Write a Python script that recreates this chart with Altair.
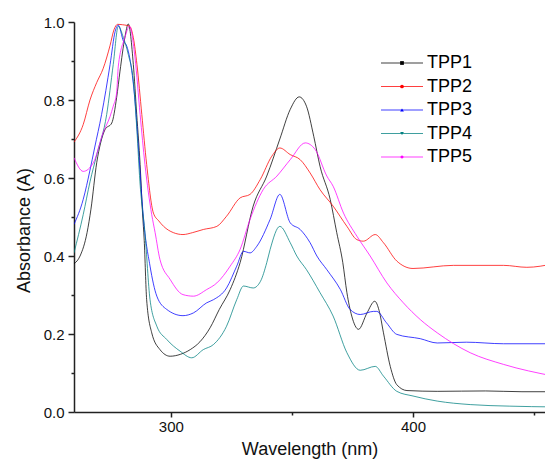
import altair as alt
import pandas as pd

series_names = ["TPP1", "TPP2", "TPP3", "TPP4", "TPP5"]
series_colors = ["#000000", "#ff0000", "#0000ff", "#008080", "#ff00ff"]
series_shapes = ["square", "circle", "triangle-up", "triangle-down", "diamond"]

tpp1_x = [260, 262.5, 265.4, 267, 269.4, 271, 272.8, 275.6, 277.6, 279, 281, 282.4, 284.5, 285.9, 287.3, 288.3,
          289, 290, 292.1, 295.5, 299.7, 304, 308, 312, 316.2, 320, 324.5, 328.6, 334, 339.6, 345, 349.3, 353,
          356, 359, 361.6, 365.8, 368.5, 371, 372.7, 374.7, 377.5, 381, 384.2, 386, 387.8, 390.6, 393.3, 397.5,
          410, 430, 445, 458]
tpp1_y = [0.38, 0.40, 0.46, 0.52, 0.64, 0.69, 0.724, 0.741, 0.806, 0.874, 0.96, 0.995, 0.891, 0.763, 0.635, 0.51,
          0.44, 0.288, 0.203, 0.16, 0.143, 0.148, 0.16, 0.18, 0.216, 0.263, 0.314, 0.383, 0.528, 0.605, 0.70, 0.776,
          0.808, 0.784, 0.707, 0.63, 0.545, 0.46, 0.383, 0.306, 0.246, 0.212, 0.254, 0.284, 0.26, 0.203, 0.117,
          0.07, 0.055, 0.053, 0.054, 0.052, 0.052]

tpp2_x = [260, 263.8, 266.6, 269.4, 272, 274.9, 276.5, 278, 280, 283, 284.5, 286, 288, 290, 292.8, 295, 297, 301,
          305, 309, 313.4, 319, 323, 328.6, 332.7, 336.9, 341.7, 345, 349.3, 353.4, 357.5, 361.6, 367, 372.7, 376.8,
          379.5, 384.4, 387.8, 393.3, 400, 416.7, 437.4, 447, 458]
tpp2_y = [0.692, 0.737, 0.80, 0.845, 0.88, 0.94, 0.98, 0.994, 0.993, 0.989, 0.96, 0.891, 0.763, 0.635, 0.51, 0.49,
          0.476, 0.46, 0.455, 0.46, 0.468, 0.476, 0.502, 0.549, 0.558, 0.596, 0.656, 0.677, 0.66, 0.647, 0.613, 0.57,
          0.528, 0.476, 0.442, 0.438, 0.455, 0.434, 0.387, 0.368, 0.376, 0.376, 0.371, 0.38]

tpp3_x = [260, 263.8, 266.6, 268.5, 271.4, 274.9, 277, 278.3, 280.4, 281.8, 283, 285.2, 286.6, 288, 288.6, 291.4,
          294.2, 298.3, 305, 309.3, 314.8, 317.6, 323, 327.2, 330, 332.7, 335.5, 341, 345, 349.3, 353.4, 357.5,
          360.3, 364.4, 370, 374, 378.2, 383.7, 385, 389, 393.3, 403, 410, 422, 437.4, 458]
tpp3_y = [0.481, 0.545, 0.62, 0.677, 0.763, 0.891, 0.976, 0.992, 0.951, 0.938, 0.908, 0.797, 0.677, 0.55, 0.502,
          0.374, 0.297, 0.263, 0.247, 0.254, 0.28, 0.288, 0.318, 0.374, 0.412, 0.408, 0.425, 0.494, 0.558, 0.485,
          0.468, 0.434, 0.40, 0.365, 0.314, 0.263, 0.25, 0.258, 0.258, 0.229, 0.199, 0.188, 0.177, 0.179, 0.175,
          0.175]

tpp4_x = [260, 263.8, 266.6, 269.4, 273.5, 276.2, 278.3, 280.4, 282.4, 284.5, 286, 287.2, 289.3, 291.4, 294.2,
          298.3, 303.8, 308.6, 313.4, 317.6, 323, 327.2, 330, 334, 337, 339.6, 341, 345, 349.3, 352, 356, 361.6,
          367, 372.7, 378.2, 384.4, 387.8, 393.3, 400, 410, 423.6, 440, 458]
tpp4_y = [0.408, 0.506, 0.59, 0.66, 0.763, 0.891, 0.989, 0.96, 0.917, 0.848, 0.72, 0.592, 0.46, 0.288, 0.22,
          0.186, 0.156, 0.139, 0.16, 0.173, 0.22, 0.288, 0.323, 0.318, 0.335, 0.383, 0.417, 0.476, 0.434, 0.40,
          0.365, 0.306, 0.246, 0.152, 0.107, 0.117, 0.092, 0.053, 0.041, 0.028, 0.019, 0.015, 0.013]

tpp5_x = [260, 263.8, 268, 272, 274.9, 276.2, 277.6, 278.3, 281, 282.9, 285.2, 287.3, 289.3, 292.1, 293.5, 295.5,
          299.7, 305, 309.3, 314.8, 319, 324.5, 328.6, 332.7, 338.2, 343.8, 349.3, 355.5, 359.6, 364.4, 367, 371.3,
          376.8, 382.3, 389.2, 396, 403, 410, 423.6, 437.4, 458]
tpp5_y = [0.652, 0.617, 0.639, 0.716, 0.758, 0.784, 0.818, 0.887, 0.96, 0.989, 0.908, 0.763, 0.635, 0.506, 0.46,
          0.391, 0.34, 0.301, 0.297, 0.314, 0.331, 0.374, 0.417, 0.494, 0.571, 0.605, 0.647, 0.69, 0.673, 0.605,
          0.579, 0.51, 0.451, 0.40, 0.331, 0.28, 0.237, 0.203, 0.152, 0.122, 0.092]

all_x = [tpp1_x, tpp2_x, tpp3_x, tpp4_x, tpp5_x]
all_y = [tpp1_y, tpp2_y, tpp3_y, tpp4_y, tpp5_y]

rows = []
for name, xs, ys in zip(series_names, all_x, all_y):
    for xv, yv in zip(xs, ys):
        rows.append({"series": name, "marker": name, "wl": xv, "absorb": yv})
df = pd.DataFrame(rows)

FONT = "Liberation Sans"

x_axis = alt.Axis(
    values=[300, 350, 400, 450],
    labelExpr="datum.value % 100 == 0 ? datum.label : ''",
    tickSize={"condition": {"test": "datum.value % 100 == 0", "value": 5}, "value": 3},
    title="Wavelength (nm)", grid=False, labelPadding=2, titlePadding=6,
)
y_axis = alt.Axis(
    values=[0, 0.1, 0.2, 0.3, 0.4, 0.5, 0.6, 0.7, 0.8, 0.9, 1.0],
    labelExpr="abs(datum.value*5 - round(datum.value*5)) < 0.001 ? format(datum.value, '.1f') : ''",
    tickSize={"condition": {"test": "abs(datum.value*5 - round(datum.value*5)) < 0.001", "value": 6}, "value": 3},
    title="Absorbance (A)", grid=False, labelPadding=4, titlePadding=10, titleY=208,
)

x_enc = alt.X("wl:Q", scale=alt.Scale(domain=[260, 454.5], nice=False, zero=False), axis=x_axis)
y_enc = alt.Y("absorb:Q", scale=alt.Scale(domain=[0, 1], nice=False, zero=False), axis=y_axis)

lines = alt.Chart(df).mark_line(strokeWidth=1, interpolate="monotone", clip=True, opacity=0.75).encode(
    x=x_enc,
    y=y_enc,
    color=alt.Color(
        "series:N",
        scale=alt.Scale(domain=series_names, range=series_colors),
        legend=alt.Legend(
            title=None, orient="none", legendX=319, legendY=32, padding=0,
            symbolType="M-10,0H10", symbolSize=17.64, symbolStrokeWidth=1, symbolOpacity=0.75,
            labelFont=FONT, labelFontSize=18, labelColor="black", labelOffset=16, rowPadding=5.5,
        ),
    ),
)

marker_legend = alt.Legend(
    title=None, orient="none", legendX=319, legendY=32, padding=0,
    symbolSize=14, symbolStrokeWidth=0, symbolOpacity=1,
    labelFont=FONT, labelFontSize=18, labelOpacity=0, labelOffset=16, rowPadding=5.5,
)

markers = alt.Chart(df).mark_point(filled=True, opacity=0, size=1).encode(
    x=x_enc,
    y=y_enc,
    shape=alt.Shape("marker:N", scale=alt.Scale(range=series_shapes), legend=marker_legend),
    fill=alt.Fill("marker:N", scale=alt.Scale(range=series_colors), legend=marker_legend),
)

chart = alt.layer(lines, markers).properties(
    width=471, height=390,
    padding={"left": 66, "top": 14, "right": 0, "bottom": 50},
    autosize=alt.AutoSizeParams(type="none"),
    background="white",
).configure_view(stroke=None).configure_axis(
    domainColor="#222", domainWidth=1.5, tickColor="#222", tickWidth=1.5,
    labelFont=FONT, labelFontSize=15, labelColor="#111",
    titleFont=FONT, titleFontSize=18, titleFontWeight="normal", titleColor="#111",
)

chart.save("out.html", embed_options={"renderer": "svg", "actions": False})
